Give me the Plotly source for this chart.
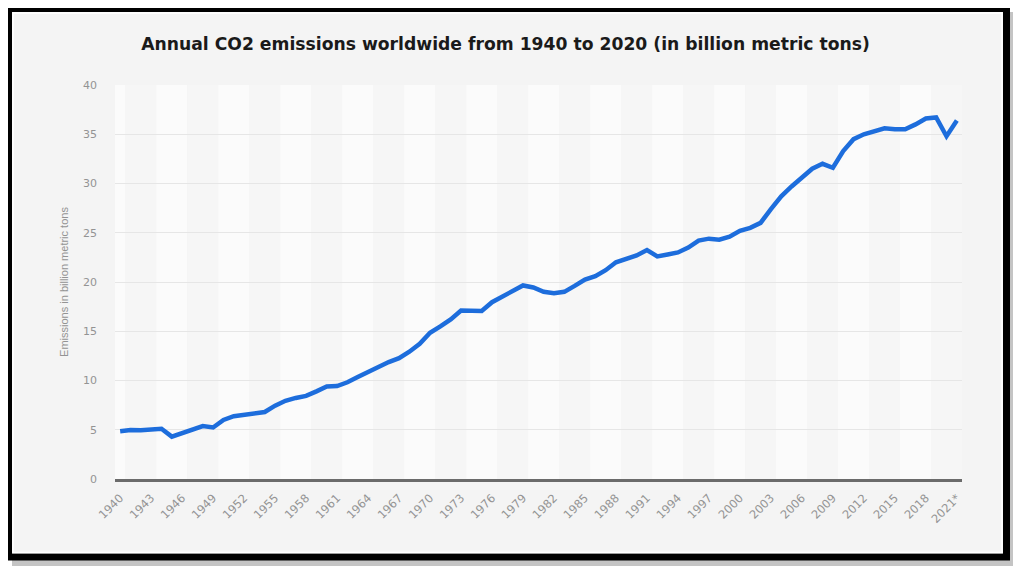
import plotly.graph_objects as go

# annual CO2 emissions worldwide, billion metric tons
years = [str(y) for y in range(1940, 2021)] + ['2021*']
emissions = [4.85, 4.97, 4.95, 5.02, 5.10, 4.30, 4.67, 5.08, 5.37, 5.23,
             6.00, 6.38, 6.49, 6.63, 6.80, 7.45, 7.94, 8.23, 8.44, 8.90,
             9.39, 9.44, 9.82, 10.35, 10.89, 11.35, 11.87, 12.27, 12.92, 13.72,
             14.85, 15.50, 16.20, 17.10, 17.05, 17.05, 17.95, 18.50, 19.10, 19.65,
             19.45, 19.00, 18.85, 19.00, 19.60, 20.25, 20.60, 21.20, 22.00, 22.40,
             22.70, 23.25, 22.60, 22.80, 23.00, 23.50, 24.20, 24.40, 24.30, 24.60,
             25.20, 25.50, 26.00, 27.40, 28.70, 29.70, 30.60, 31.50, 32.00, 31.60,
             33.30, 34.50, 35.00, 35.30, 35.60, 35.50, 35.50, 36.00, 36.60, 36.70,
             34.80, 36.40]
y_ticks = [0, 5, 10, 15, 20, 25, 30, 35, 40]
x_ticks = years[::3]

# page body has an 8px margin, so the figure is placed at (8, 8) on screen
OFF = 8
W, H = 1021 - OFF, 568 - OFF
L, R, T, B = 115 - OFF, 59, 85 - OFF, 89

def px(xs):  # screen x -> paper x
    return (xs - OFF - L) / (W - L - R)

def py(ys):  # screen y -> paper y
    return (H - B - (ys - OFF)) / (H - T - B)

fig = go.Figure()

# frame: shadow, black border, inner white edge
fig.add_shape(type='rect', xref='paper', yref='paper', layer='below',
              x0=px(12), x1=px(1016), y0=py(12), y1=py(566),
              line=dict(width=0), fillcolor='#c4c4c4')
fig.add_shape(type='rect', xref='paper', yref='paper', layer='below',
              x0=px(8.5), x1=px(1006.5), y0=py(8.5), y1=py(557),
              line=dict(width=7, color='black'), fillcolor='#f4f4f4')
fig.add_shape(type='rect', xref='paper', yref='paper', layer='below',
              x0=px(13), x1=px(1002), y0=py(13), y1=py(552.5),
              line=dict(width=1.5, color='white'), fillcolor='rgba(0,0,0,0)')

# alternating background bands, one per tick label
for k, i in enumerate(range(0, len(years) + 3, 3)):
    fig.add_shape(type='rect', xref='x', yref='y', layer='below',
                  x0=max(i - 2.5, -0.5), x1=min(i + 0.5, len(years) - 0.5),
                  y0=0, y1=40, line=dict(width=0),
                  fillcolor='#fbfbfb' if k % 2 == 0 else '#f6f6f6')

fig.add_trace(go.Scatter(x=years, y=emissions, mode='lines',
                         line=dict(color='#1d6ddc', width=4.5),
                         showlegend=False))

fig.update_layout(
    width=W, height=H,
    margin=dict(l=L, r=R, t=T, b=B),
    paper_bgcolor='white', plot_bgcolor='#f9f9f9',
    font=dict(family='Liberation Sans, Arial, sans-serif', color='#8a8a8a'),
    title=dict(text='<b>Annual CO2 emissions worldwide from 1940 to 2020 (in billion metric tons)</b>',
               x=(505.5 - OFF) / W, xanchor='center',
               y=1 - (44 - OFF) / H, yanchor='middle',
               font=dict(family='DejaVu Sans', size=17.2, color='#1a1a1a')),
)
fig.update_xaxes(type='category', range=[-0.5, len(years) - 0.5],
                 tickmode='array', tickvals=x_ticks, ticktext=x_ticks,
                 tickangle=-45,
                 tickfont=dict(family='DejaVu Sans', size=11.5, color='#939393'),
                 showgrid=False, zeroline=False, ticks='',
                 showline=True, linecolor='#6b6b6b', linewidth=2.5,
                 ticklabelstandoff=5)
fig.update_yaxes(range=[0, 40], tickvals=y_ticks,
                 tickfont=dict(family='DejaVu Sans', size=11, color='#939393'),
                 showgrid=True, gridcolor='#e6e6e6', gridwidth=1,
                 zeroline=False, showline=False, ticklabelstandoff=17,
                 title=dict(text='Emissions in billion metric tons',
                            font=dict(size=11, color='#939393'), standoff=12))

fig.write_html('out.html')
